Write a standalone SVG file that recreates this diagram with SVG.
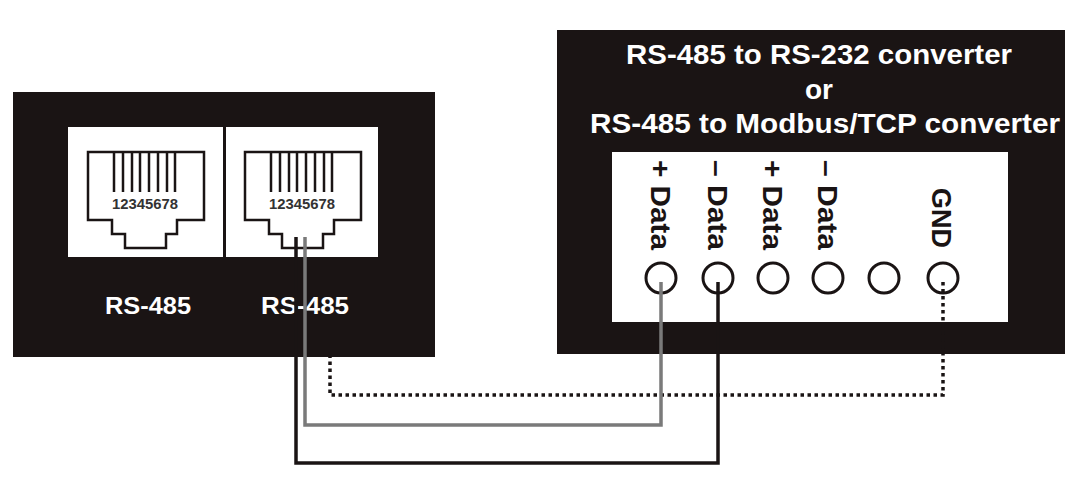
<svg xmlns="http://www.w3.org/2000/svg" width="1087" height="495" viewBox="0 0 1087 495">
<style>
.box{fill:#1a1414}.pan{fill:#fff}
.j{fill:none;stroke:#1a1414;stroke-width:2.5}
.t{font-family:"Liberation Sans",Arial,sans-serif;font-weight:bold;fill:#fff}
.d{font-family:"Liberation Sans",Arial,sans-serif;font-weight:bold;fill:#1a1414;font-size:28px}
.c{fill:none;stroke:#1a1414;stroke-width:3}
</style>
<rect width="1087" height="495" fill="#fff"/>
<defs>
<g id="jack">
<path class="j" d="M0,0 H116 V68 H89 V82 H78 V96 H37 V82 H24 V68 H0 Z"/>
<path class="j" d="M26,0V40M35,0V40M44,0V40M52,0V40M61,0V40M70,0V40M79,0V40M87,0V40" stroke-width="2"/>
<text x="57" y="57" text-anchor="middle" font-family="Liberation Sans,Arial,sans-serif" font-size="15" font-weight="bold" fill="#333" textLength="66" lengthAdjust="spacingAndGlyphs">12345678</text>
</g>
</defs>
<g id="left">
<rect class="box" x="13" y="92" width="422" height="265"/>
<rect class="pan" x="68" y="127" width="155" height="130"/>
<rect class="pan" x="226" y="127" width="152" height="130"/>
<use href="#jack" x="88" y="152"/>
<use href="#jack" x="245" y="152"/>
<text class="t" x="105" y="314" font-size="24" textLength="86" lengthAdjust="spacingAndGlyphs">RS-485</text>
<text class="t" x="261" y="314" font-size="24" textLength="88" lengthAdjust="spacingAndGlyphs">RS-485</text>
</g>
<g id="right">
<rect class="box" x="557" y="30" width="508" height="324"/>
<text class="t" x="626" y="64" font-size="28" textLength="386" lengthAdjust="spacingAndGlyphs">RS-485 to RS-232 converter</text>
<text class="t" x="819" y="99" text-anchor="middle" font-size="28">or</text>
<text class="t" x="590" y="133" font-size="28" textLength="470" lengthAdjust="spacingAndGlyphs">RS-485 to Modbus/TCP converter</text>
<rect class="pan" x="612" y="152" width="396" height="170"/>
<text class="d" transform="translate(651,160) rotate(90)" textLength="90" lengthAdjust="spacingAndGlyphs">+ Data</text>
<text class="d" transform="translate(708,160) rotate(90)" textLength="90" lengthAdjust="spacingAndGlyphs">– Data</text>
<text class="d" transform="translate(763,160) rotate(90)" textLength="90" lengthAdjust="spacingAndGlyphs">+ Data</text>
<text class="d" transform="translate(818,160) rotate(90)" textLength="90" lengthAdjust="spacingAndGlyphs">– Data</text>
<text class="d" transform="translate(932,188) rotate(90)" textLength="60" lengthAdjust="spacingAndGlyphs">GND</text>
<circle class="c" cx="661" cy="278" r="15"/>
<circle class="c" cx="718" cy="278" r="15"/>
<circle class="c" cx="773" cy="278" r="15"/>
<circle class="c" cx="828" cy="278" r="15"/>
<circle class="c" cx="884" cy="278" r="15"/>
<circle class="c" cx="943" cy="278" r="15"/>
</g>
<g id="connectors" fill="none">
<path d="M943,282 V395 H330 V357" stroke="#1a1414" stroke-width="3.5" stroke-dasharray="3.5,3.5"/>
<path d="M661,282 V425 H305 V237" stroke="#7a7a7a" stroke-width="3.5"/>
<path d="M718,282 V463 H296 V237" stroke="#1a1414" stroke-width="3.5"/>
</g>
</svg>
